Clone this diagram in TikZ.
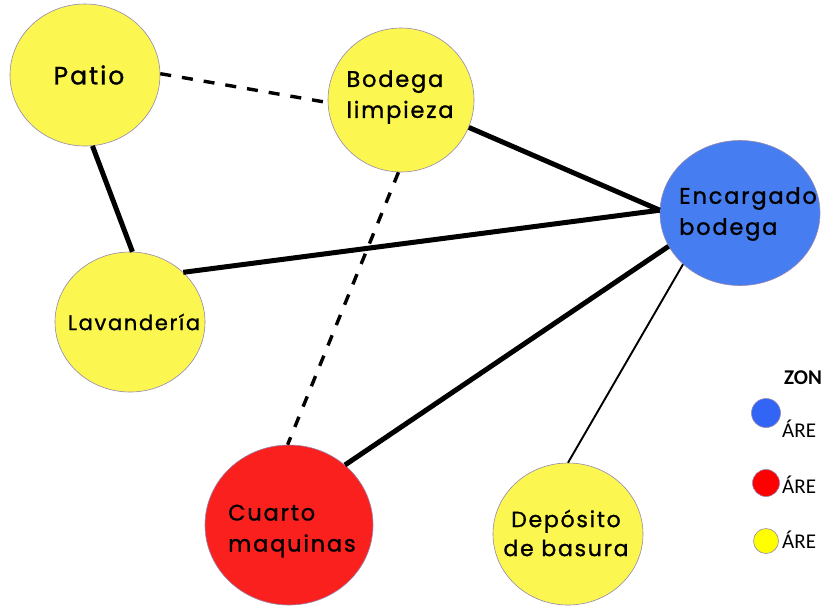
\documentclass[tikz,border=0pt]{standalone}
\usepackage{fontspec}
\setmainfont{Poppins}
\newfontfamily\hand[LetterSpace=8,FakeBold=1.1]{Poppins}
\newfontfamily\legendfont{Carlito}
\usetikzlibrary{shapes.geometric}
\definecolor{yel}{RGB}{252,246,80}
\definecolor{blu}{RGB}{70,125,240}
\definecolor{rd}{RGB}{250,32,30}
\definecolor{rim}{RGB}{150,135,175}
\definecolor{lblue}{RGB}{50,100,245}
\definecolor{lred}{RGB}{255,0,0}
\definecolor{lyel}{RGB}{255,255,0}
\begin{document}
\begin{tikzpicture}[x=1pt,y=1pt,
 zone/.style={ellipse,draw=rim,line width=0.6pt,inner sep=0pt},
 lbl/.style={font=\hand\fontsize{22.5}{31}\selectfont,align=left,inner sep=0pt},
 strong/.style={line width=5pt},
 weak/.style={line width=3.4pt,dash pattern=on 11pt off 11pt},
 fine/.style={line width=1.9pt},
 leg/.style={circle,draw=rim,line width=0.6pt,inner sep=0pt},
 legtext/.style={font=\legendfont\fontsize{21}{22}\selectfont,anchor=base west,inner sep=0pt}]
\useasboundingbox (0,0) rectangle (821,-606);
\clip (0,0) rectangle (821,-606);
\fill[white] (0,0) rectangle (821,-606);
% areas
\node[zone,fill=yel,minimum width=150pt,minimum height=142pt] (patio) at (85,-75) {};
\node[zone,fill=yel,minimum width=146pt,minimum height=144pt] (bodega) at (401,-100) {};
\node[zone,fill=blu,minimum width=160pt,minimum height=145pt] (enc) at (740,-213) {};
\node[zone,fill=yel,minimum width=150pt,minimum height=140pt] (lav) at (130,-322) {};
\node[zone,fill=rd,minimum width=168pt,minimum height=160pt] (cuarto) at (289,-525) {};
\node[zone,fill=yel,minimum width=150pt,minimum height=142pt] (dep) at (568,-534) {};
% labels
\node[lbl,font=\hand\fontsize{25}{31}\selectfont] (tpatio) at (89,-75) {Patio};
\node[lbl] (tbod) at (400,-97) {Bodega\\limpieza};
\node[lbl,anchor=west] (tenc) at (679,-214) {Encargado\\bodega};
\node[lbl,font=\hand\fontsize{21}{31}\selectfont] (tlav) at (134,-322) {Lavandería};
\node[lbl,anchor=west] (tcua) at (228,-531) {Cuarto\\maquinas};
\node[lbl,align=center,font=\hand\fontsize{22}{29}\selectfont] (tdep) at (566,-533) {Depósito\\de basura};
% connectors
\draw[weak] (patio.1) -- (bodega.182);
\draw[strong] (patio.276) -- (lav.88);
\draw[strong] (bodega.338) -- (enc.178);
\draw[strong] (lav.43) -- (enc.178);
\draw[weak] (bodega.268) -- (cuarto.91);
\draw[strong] (cuarto.47) -- (enc.205);
\draw[fine] (enc.222) -- (dep.90);
% legend
\node[legtext,font=\legendfont\bfseries\fontsize{21}{22}\selectfont] (ltitle) at (784,-384) {ZON};
\node[leg,fill=lblue,minimum size=29pt] (lb) at (766,-413) {};
\node[leg,fill=lred,minimum size=27pt] (lr) at (766,-483) {};
\node[leg,fill=lyel,minimum size=25pt] (ly) at (766,-541) {};
\node[legtext] (lbt) at (782,-437) {ÁRE};
\node[legtext] (lrt) at (782,-493) {ÁRE};
\node[legtext] (lyt) at (782,-548) {ÁRE};
\end{tikzpicture}
\end{document}
